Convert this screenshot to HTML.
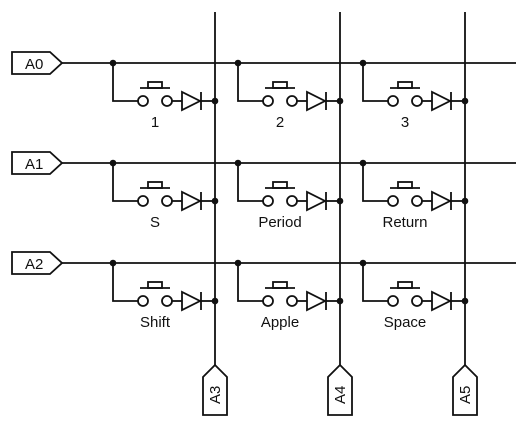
<!DOCTYPE html>
<html><head><meta charset="utf-8"><style>
html,body{margin:0;padding:0;background:#fff;}
svg{display:block;}
text{font-family:"Liberation Sans","DejaVu Sans",sans-serif;font-size:15px;fill:#111;}
</style></head><body>
<svg width="529" height="428" viewBox="0 0 529 428" xmlns="http://www.w3.org/2000/svg">
<defs>
<g id="cell" stroke="#111" stroke-width="1.8" fill="none">
  <circle cx="0" cy="0" r="3.3" fill="#111" stroke="none"/>
  <polyline points="0,0 0,38 25,38"/>
  <circle cx="30" cy="38" r="5" fill="#fff"/>
  <circle cx="54" cy="38" r="5" fill="#fff"/>
  <line x1="59" y1="38" x2="69" y2="38"/>
  <line x1="27" y1="25" x2="57" y2="25"/>
  <rect x="35" y="19" width="14" height="6"/>
  <polygon points="69,29 69,47 87,38" fill="#fff"/>
  <line x1="88" y1="29" x2="88" y2="47"/>
  <line x1="88" y1="38" x2="102" y2="38"/>
  <circle cx="102" cy="38" r="3.3" fill="#111" stroke="none"/>
</g>
</defs>
<g stroke="#111" stroke-width="1.8" fill="none">
  <line x1="62" y1="63" x2="516" y2="63"/>
  <line x1="62" y1="163" x2="516" y2="163"/>
  <line x1="62" y1="263" x2="516" y2="263"/>
  <line x1="215" y1="12" x2="215" y2="365"/>
  <line x1="340" y1="12" x2="340" y2="365"/>
  <line x1="465" y1="12" x2="465" y2="365"/>
  <polygon points="12,52 50,52 62,63 50,74 12,74" fill="#fff"/>
  <polygon points="12,152 50,152 62,163 50,174 12,174" fill="#fff"/>
  <polygon points="12,252 50,252 62,263 50,274 12,274" fill="#fff"/>
  <polygon points="215,365 227,377 227,415 203,415 203,377" fill="#fff"/>
  <polygon points="340,365 352,377 352,415 328,415 328,377" fill="#fff"/>
  <polygon points="465,365 477,377 477,415 453,415 453,377" fill="#fff"/>
</g>
<use href="#cell" x="113" y="63"/><use href="#cell" x="238" y="63"/><use href="#cell" x="363" y="63"/>
<use href="#cell" x="113" y="163"/><use href="#cell" x="238" y="163"/><use href="#cell" x="363" y="163"/>
<use href="#cell" x="113" y="263"/><use href="#cell" x="238" y="263"/><use href="#cell" x="363" y="263"/>
<text x="25" y="69">A0</text>
<text x="25" y="169">A1</text>
<text x="25" y="269">A2</text>
<text transform="translate(220,404) rotate(-90)">A3</text>
<text transform="translate(345,404) rotate(-90)">A4</text>
<text transform="translate(470,404) rotate(-90)">A5</text>
<g text-anchor="middle">
<text x="155" y="127">1</text><text x="280" y="127">2</text><text x="405" y="127">3</text>
<text x="155" y="227">S</text><text x="280" y="227">Period</text><text x="405" y="227">Return</text>
<text x="155" y="327">Shift</text><text x="280" y="327">Apple</text><text x="405" y="327">Space</text>
</g>
</svg>
</body></html>
